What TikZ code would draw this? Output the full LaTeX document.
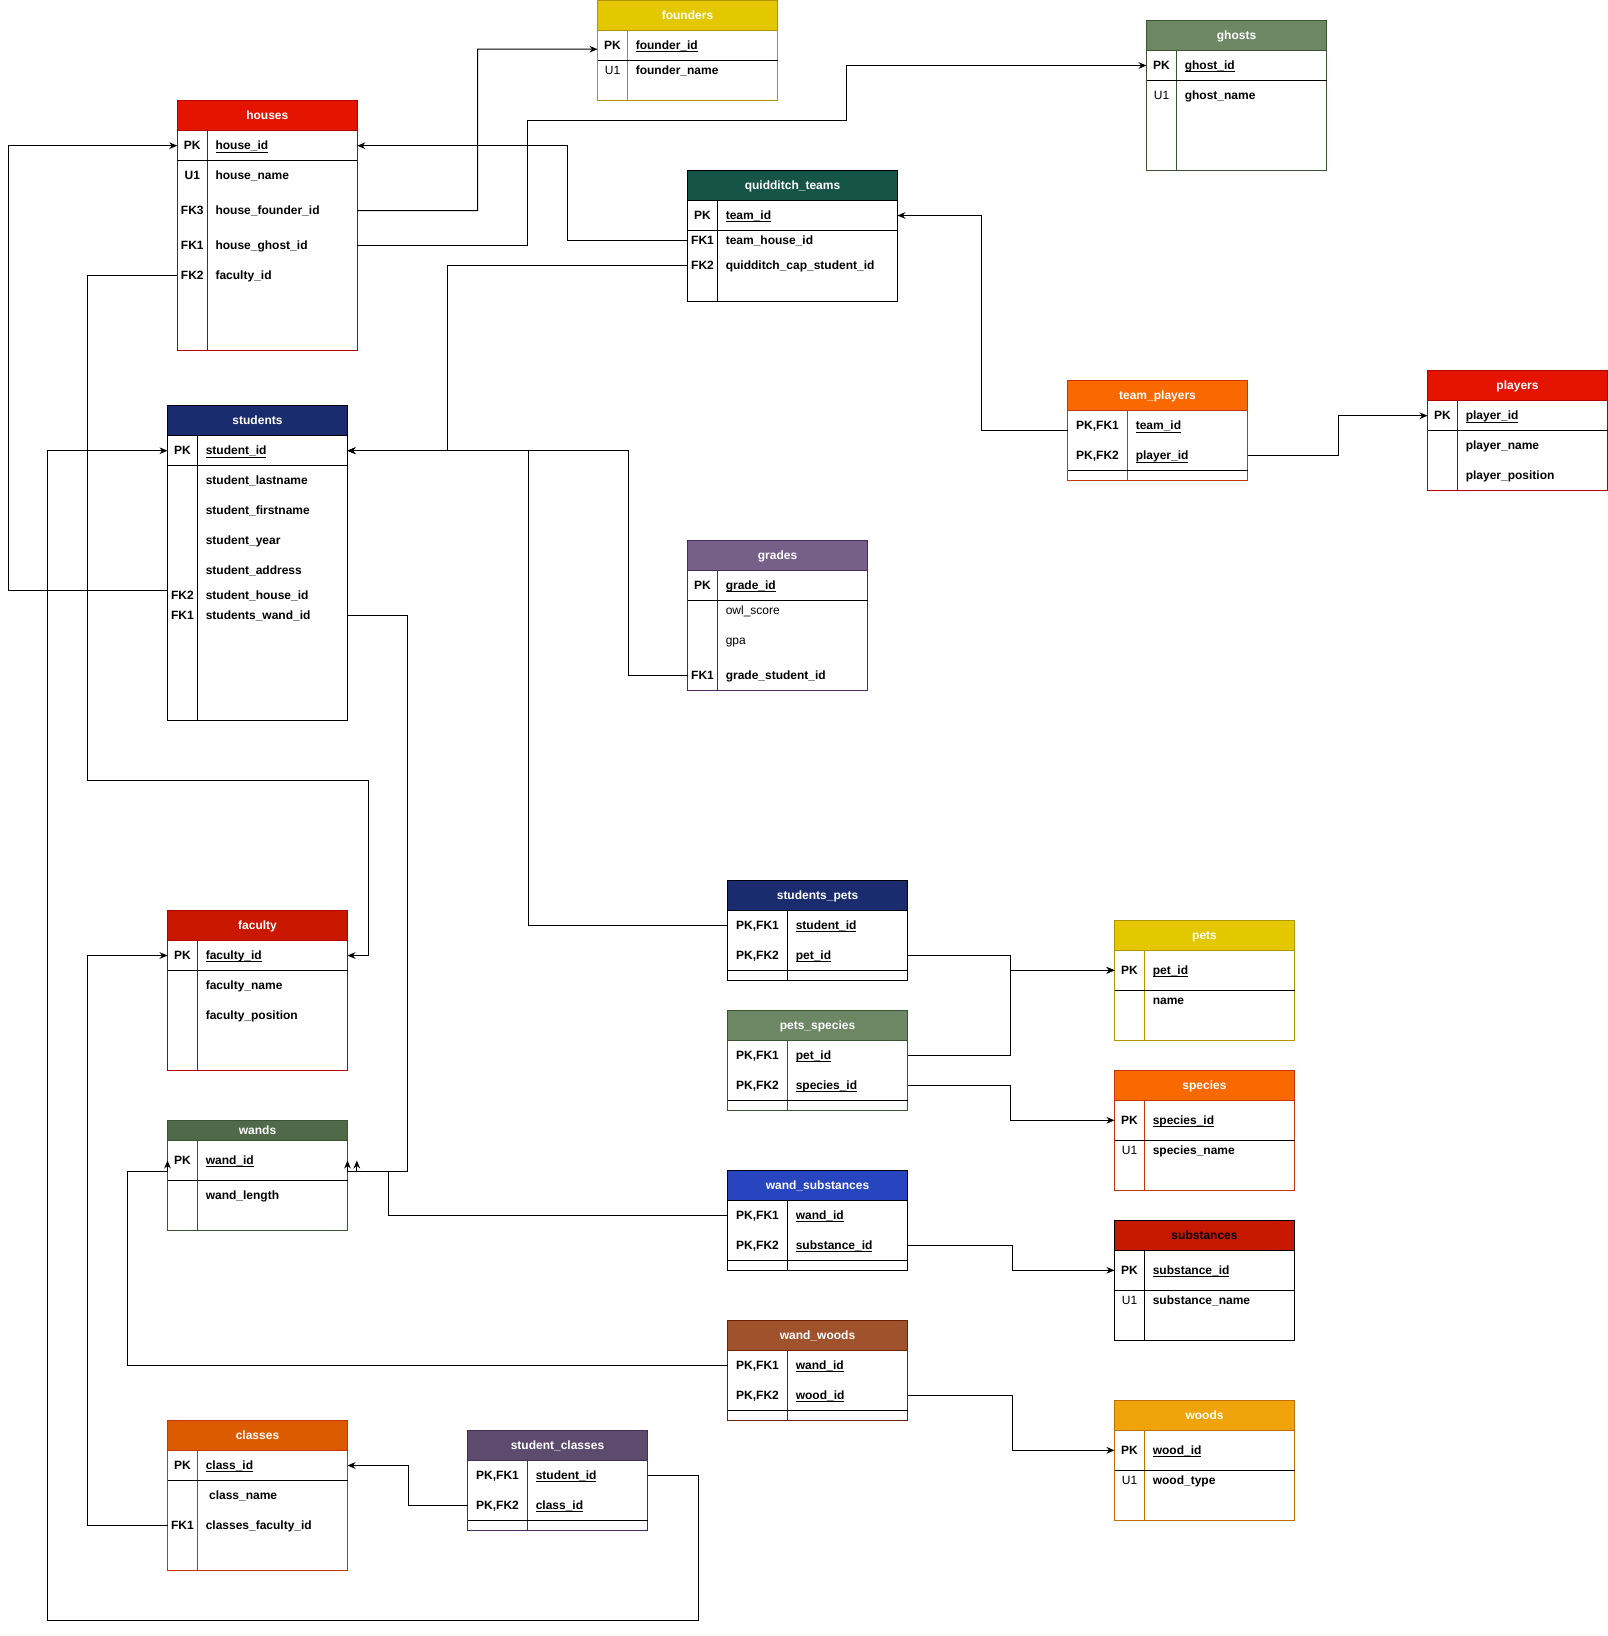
\documentclass[tikz,border=0pt]{standalone}
\usepackage{fontspec}
\setmainfont{Liberation Sans}
\usetikzlibrary{arrows.meta}

\definecolor{yellowhead}{HTML}{E3C800}  \definecolor{yellowline}{HTML}{B09500}
\definecolor{sagehead}{HTML}{6D8764}    \definecolor{sageline}{HTML}{3A5431}
\definecolor{redhead}{HTML}{E51400}     \definecolor{redline}{HTML}{B20000}
\definecolor{tealhead}{HTML}{165448}    \definecolor{tealline}{HTML}{000000}
\definecolor{orangehead}{HTML}{FA6800}  \definecolor{orangeline}{HTML}{C73500}
\definecolor{navyhead}{HTML}{1A2B6E}    \definecolor{navyline}{HTML}{000000}
\definecolor{purplehead}{HTML}{76608A}  \definecolor{purpleline}{HTML}{432D57}
\definecolor{crimsonhead}{HTML}{C91700} \definecolor{crimsonline}{HTML}{B20000}
\definecolor{olivehead}{HTML}{4F6949}   \definecolor{oliveline}{HTML}{3A5431}
\definecolor{bluehead}{HTML}{2645BE}    \definecolor{blueline}{HTML}{000000}
\definecolor{substhead}{HTML}{C81800}   \definecolor{substline}{HTML}{000000}
\definecolor{siennahead}{HTML}{A0522D}  \definecolor{siennaline}{HTML}{6D1F00}
\definecolor{amberhead}{HTML}{F0A30A}   \definecolor{amberline}{HTML}{BD7000}
\definecolor{rusthead}{HTML}{DD5B00}    \definecolor{rustline}{HTML}{C73500}
\definecolor{plumhead}{HTML}{5D4B6E}    \definecolor{plumline}{HTML}{432D57}

\newcommand{\erfont}{\fontsize{9}{11}\selectfont\bfseries}
\newcommand{\pkey}[1]{\underline{\smash{#1}}}

% table body: palette, left, key column, right, top, head bottom, divider, bottom
\newcommand{\tableframe}[8]{%
  \def\erL{#2}\def\erK{#3}\def\erR{#4}%
  \filldraw[fill=#1head, draw=#1line, line width=0.75pt] (#2,#5) rectangle (#4,#6);
  \draw[draw=#1line, line width=0.75pt] (#2,#6) rectangle (#4,#8) (#3,#6) -- (#3,#8);
  \draw[black, line width=0.75pt] (#2,#7) -- (#4,#7);}
% one row: name, y, key text, column text
\newcommand{\tablerow}[4]{%
  \node[keycell] (#1-key) at ({(\erL+\erK)/2},#2) {#3};
  \node[fieldcell] (#1) at ({\erK+8},#2) {#4};
  \coordinate (#1-w) at (\erL,#2);
  \coordinate (#1-e) at (\erR,#2);}

\tikzset{
>={Stealth[length=6pt,width=5pt]}, % filled arrow heads
tabletitle/.style={font=\erfont, text=white, inner sep=0pt, anchor=base, yshift=-3.2pt}, % name in the coloured head
keycell/.style={font=\erfont, inner sep=0pt, anchor=base, yshift=-3.2pt}, % PK / FK / U1 column
fieldcell/.style={font=\erfont, inner sep=0pt, anchor=base west, yshift=-3.2pt}, % column names
rel/.style={draw=black, line width=0.75pt}, % relation line
ref/.style={rel, ->}, % relation ending on a key
}

\begin{document}
\begin{tikzpicture}[x=0.75pt, y=-0.75pt]
\path[use as bounding box, fill=white] (0,0) rectangle (1608,1636);

% founders
\tableframe{yellow}{597.5}{627.5}{777.5}{0.5}{30.5}{60.5}{100}
\node[tabletitle] (founders) at (687.5,15.5) {founders};
\tablerow{founders-id}{45.5}{PK}{\pkey{founder\_id}}
\tablerow{founders-name}{70.5}{\mdseries U1}{founder\_name}

% ghosts
\tableframe{sage}{1146.5}{1176.5}{1326.5}{20.3}{50.3}{80.3}{170.3}
\node[tabletitle] (ghosts) at (1236.5,35.3) {ghosts};
\tablerow{ghosts-id}{65.5}{PK}{\pkey{ghost\_id}}
\tablerow{ghosts-name}{95.5}{\mdseries U1}{ghost\_name}

% houses
\tableframe{red}{177.3}{207.3}{357.3}{100}{130.5}{160.3}{350}
\node[tabletitle] (houses) at (267.3,115.3) {houses};
\tablerow{houses-id}{145.7}{PK}{\pkey{house\_id}}
\tablerow{houses-name}{175.7}{U1}{house\_name}
\tablerow{houses-founder}{210.7}{FK3}{house\_founder\_id}
\tablerow{houses-ghost}{245.7}{FK1}{house\_ghost\_id}
\tablerow{houses-faculty}{275.7}{FK2}{faculty\_id}

% quidditch_teams
\tableframe{teal}{687.5}{717.5}{897.5}{170.3}{200.3}{230.3}{301.3}
\node[tabletitle] (qt) at (792.5,185.3) {quidditch\_teams};
\tablerow{qt-id}{215.5}{PK}{\pkey{team\_id}}
\tablerow{qt-house}{240.7}{FK1}{team\_house\_id}
\tablerow{qt-cap}{265.7}{FK2}{quidditch\_cap\_student\_id}

% team_players
\tableframe{orange}{1067.5}{1127.5}{1247.5}{380.7}{410.7}{470.5}{480.3}
\node[tabletitle] (tp) at (1157.5,395.7) {team\_players};
\tablerow{tp-team}{425.7}{PK,FK1}{\pkey{team\_id}}
\tablerow{tp-player}{455.7}{PK,FK2}{\pkey{player\_id}}

% players
\tableframe{red}{1427.5}{1457.5}{1607.5}{370.5}{400.5}{430.5}{490.3}
\node[tabletitle] (players) at (1517.5,385.5) {players};
\tablerow{players-id}{415.7}{PK}{\pkey{player\_id}}
\tablerow{players-name}{445.7}{}{player\_name}
\tablerow{players-position}{475.7}{}{player\_position}

% students
\tableframe{navy}{167.5}{197.5}{347.5}{405.3}{435.3}{465.3}{720}
\node[tabletitle] (students) at (257.5,420.3) {students};
\tablerow{students-id}{450.7}{PK}{\pkey{student\_id}}
\tablerow{students-last}{480.7}{}{student\_lastname}
\tablerow{students-first}{510.7}{}{student\_firstname}
\tablerow{students-year}{540.7}{}{student\_year}
\tablerow{students-address}{570.7}{}{student\_address}
\tablerow{students-house}{595.7}{FK2}{student\_house\_id}
\tablerow{students-wand}{615.7}{FK1}{students\_wand\_id}

% grades
\tableframe{purple}{687.5}{717.5}{867.5}{540.7}{570.7}{600.5}{690.3}
\node[tabletitle] (grades) at (777.5,555.7) {grades};
\tablerow{grades-id}{585.5}{PK}{\pkey{grade\_id}}
\tablerow{grades-owl}{610.7}{}{\mdseries owl\_score}
\tablerow{grades-gpa}{640.7}{}{\mdseries gpa}
\tablerow{grades-student}{675.7}{FK1}{grade\_student\_id}

% students_pets
\tableframe{navy}{727.5}{787.5}{907.5}{880.3}{910.3}{970.3}{980.3}
\node[tabletitle] (sp) at (817.5,895.3) {students\_pets};
\tablerow{sp-student}{925.5}{PK,FK1}{\pkey{student\_id}}
\tablerow{sp-pet}{955.5}{PK,FK2}{\pkey{pet\_id}}

% pets_species
\tableframe{sage}{727.5}{787.5}{907.5}{1010.3}{1040.3}{1100.3}{1110.3}
\node[tabletitle] (ps) at (817.5,1025.3) {pets\_species};
\tablerow{ps-pet}{1055.5}{PK,FK1}{\pkey{pet\_id}}
\tablerow{ps-species}{1085.5}{PK,FK2}{\pkey{species\_id}}

% wand_substances
\tableframe{blue}{727.5}{787.5}{907.5}{1170.3}{1200.3}{1260.3}{1270.3}
\node[tabletitle] (ws) at (817.5,1185.3) {wand\_substances};
\tablerow{ws-wand}{1215.5}{PK,FK1}{\pkey{wand\_id}}
\tablerow{ws-subst}{1245.5}{PK,FK2}{\pkey{substance\_id}}

% wand_woods
\tableframe{sienna}{727.5}{787.5}{907.5}{1320.3}{1350.3}{1410.3}{1420.3}
\node[tabletitle] (ww) at (817.5,1335.3) {wand\_woods};
\tablerow{ww-wand}{1365.5}{PK,FK1}{\pkey{wand\_id}}
\tablerow{ww-wood}{1395.5}{PK,FK2}{\pkey{wood\_id}}

% pets
\tableframe{yellow}{1114.5}{1144.5}{1294.5}{920.3}{950.3}{990.3}{1040.3}
\node[tabletitle] (pets) at (1204.5,935.3) {pets};
\tablerow{pets-id}{970.3}{PK}{\pkey{pet\_id}}
\tablerow{pets-name}{1000.7}{}{name}

% species
\tableframe{orange}{1114.5}{1144.5}{1294.5}{1070.3}{1100.3}{1140.3}{1190.3}
\node[tabletitle] (species) at (1204.5,1085.3) {species};
\tablerow{species-id}{1120.3}{PK}{\pkey{species\_id}}
\tablerow{species-name}{1150.5}{\mdseries U1}{species\_name}

% substances
\tableframe{subst}{1114.5}{1144.5}{1294.5}{1220.3}{1250.3}{1290.3}{1340.3}
\node[tabletitle, text=black] (substances) at (1204.5,1235.3) {substances};
\tablerow{substances-id}{1270.3}{PK}{\pkey{substance\_id}}
\tablerow{substances-name}{1300.5}{\mdseries U1}{substance\_name}

% woods
\tableframe{amber}{1114.5}{1144.5}{1294.5}{1400.3}{1430.3}{1470.3}{1520.3}
\node[tabletitle] (woods) at (1204.5,1415.3) {woods};
\tablerow{woods-id}{1450.3}{PK}{\pkey{wood\_id}}
\tablerow{woods-type}{1480.5}{\mdseries U1}{wood\_type}

% faculty
\tableframe{crimson}{167.5}{197.5}{347.5}{910.3}{940.3}{970.3}{1070.3}
\node[tabletitle] (faculty) at (257.5,925.3) {faculty};
\tablerow{faculty-id}{955.5}{PK}{\pkey{faculty\_id}}
\tablerow{faculty-name}{985.7}{}{faculty\_name}
\tablerow{faculty-position}{1015.7}{}{faculty\_position}

% wands
\tableframe{olive}{167.5}{197.5}{347.5}{1120.3}{1140.3}{1180.3}{1230.3}
\node[tabletitle] (wands) at (257.5,1130.3) {wands};
\tablerow{wands-id}{1160.5}{PK}{\pkey{wand\_id}}
\tablerow{wands-length}{1195.7}{}{wand\_length}

% classes
\tableframe{rust}{167.5}{197.5}{347.5}{1420.3}{1450.3}{1480.3}{1570.3}
\node[tabletitle] (classes) at (257.5,1435.3) {classes};
\tablerow{classes-id}{1465.5}{PK}{\pkey{class\_id}}
\tablerow{classes-name}{1495.5}{}{\hspace{2.5pt}class\_name}
\tablerow{classes-faculty}{1525.5}{FK1}{classes\_faculty\_id}

% student_classes
\tableframe{plum}{467.5}{527.5}{647.5}{1430.3}{1460.3}{1520.3}{1530.3}
\node[tabletitle] (sc) at (557.5,1445.3) {student\_classes};
\tablerow{sc-student}{1475.5}{PK,FK1}{\pkey{student\_id}}
\tablerow{sc-class}{1505.5}{PK,FK2}{\pkey{class\_id}}

% relations
\draw[ref] (houses-founder-e) -| (477.5,49.2) -- ([yshift=-2.8pt]founders-id-w);
\draw[ref] (houses-ghost-e) -| (527.7,120.3) -| (846.7,65.5) -- (ghosts-id-w);
\draw[ref] (qt-house-w) -| (567.5,145.7) -- (houses-id-e);
\draw[ref] (qt-cap-w) -| (447.5,450.7) -- (students-id-e);
\draw[ref] (grades-student-w) -| (628,450.7) -- (students-id-e);
\draw[ref] (sp-student-w) -| (528,450.7) -- (students-id-e);
\draw[ref] ([yshift=-3.9pt]tp-team-w) -| (981.5,215.5) -- (qt-id-e);
\draw[ref] (tp-player-e) -| (1338,415.7) -- (players-id-w);
\draw[ref] ([yshift=3.9pt]students-house-w) -| (8.3,145.7) -- (houses-id-w);
\draw[ref] (sc-student-e) -| (698,1620.5) -| (47.7,450.7) -- (students-id-w);
\draw[ref] (houses-faculty-w) -| (87.7,780.5) -| (368,955.5) -- (faculty-id-e);
\draw[ref] (classes-faculty-w) -| (87.7,955.5) -- (faculty-id-w);
\draw[ref] (students-wand-e) -| (407.8,1171) -| ([xshift=7pt]wands-id-e);
\draw[ref] (ws-wand-w) -| (388,1171) -| (wands-id-e);
\draw[ref] (ww-wand-w) -| (127.3,1171) -| (wands-id-w);
\draw[ref] (sc-class-w) -| (408,1465.5) -- (classes-id-e);
\draw[ref] (sp-pet-e) -| (1010.7,970.3) -- (pets-id-w);
\draw[ref] (ps-pet-e) -| (1010.7,970.3) -- (pets-id-w);
\draw[ref] (ps-species-e) -| (1010.7,1120.3) -- (species-id-w);
\draw[ref] (ws-subst-e) -| (1012.3,1270.3) -- (substances-id-w);
\draw[ref] (ww-wood-e) -| (1012.3,1450.3) -- (woods-id-w);
\end{tikzpicture}
\end{document}
